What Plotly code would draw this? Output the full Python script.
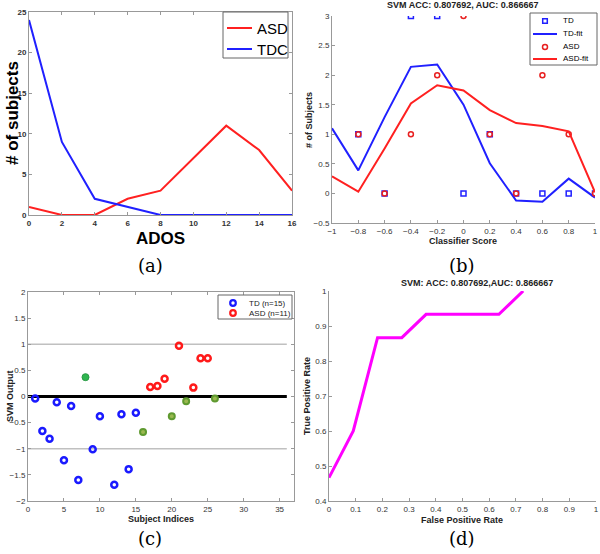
import plotly.graph_objects as go

W, H = 600, 554

# ---------------- data ----------------
# (a)
ados = [0, 2, 4, 6, 8, 10, 12, 14, 16]
asd_counts = [1, 0, 0, 2, 3, 7, 11, 8, 3]
tdc_counts = [24, 9, 2, 1, 0, 0, 0, 0, 0]

# (b)
score_bins = [-1, -0.8, -0.6, -0.4, -0.2, 0, 0.2, 0.4, 0.6, 0.8, 1]
td_pts_x = [-0.8, -0.6, -0.4, -0.2, 0, 0.2, 0.4, 0.6, 0.8, 1]
td_pts_y = [1, 0, 3, 3, 0, 1, 0, 0, 0, 0]
asd_pts_x = [-0.8, -0.6, -0.4, -0.2, 0, 0.2, 0.4, 0.6, 0.8, 1]
asd_pts_y = [1, 0, 1, 2, 3, 1, 0, 2, 1, 0]
td_fit = [1.10, 0.39, 1.29, 2.14, 2.18, 1.50, 0.51, -0.12, -0.14, 0.25, -0.07]
asd_fit = [0.29, 0.03, 0.76, 1.52, 1.83, 1.74, 1.41, 1.19, 1.14, 1.05, 0.02]

# (c)
td_idx = [1, 2, 3, 4, 5, 6, 7, 9, 10, 12, 13, 14, 15]
td_out = [-0.04, -0.66, -0.81, -0.11, -1.22, -0.18, -1.60, -1.01, -0.38, -1.69, -0.34, -1.39, -0.31]
asd_idx = [17, 18, 19, 21, 23, 24, 25]
asd_out = [0.18, 0.20, 0.34, 0.97, 0.17, 0.73, 0.73]
mis_td_idx = [8]
mis_td_out = [0.37]
mis_asd_idx = [16, 20, 22, 26]
mis_asd_out = [-0.68, -0.38, -0.09, -0.04]
ref_x = [0, 36]

# (d)
fpr = [0, 1/11, 2/11, 3/11, 4/11, 7/11, 8/11]
tpr = [7/15, 9/15, 13/15, 13/15, 14/15, 14/15, 1.0]


def fx(px):
    return px / W


def fy(py):
    return 1 - py / H


fig = go.Figure()

FONT = "Liberation Sans, Arial, sans-serif"
SERIF = "DejaVu Serif, Liberation Serif, serif"
GRAY = "#999999"
TICKC = "#333333"
BLUE = "#2020ff"
RED = "#ff2020"

# ---- (a)
fig.add_trace(go.Scatter(x=ados, y=asd_counts, mode="lines", name="ASD", showlegend=False,
                         line=dict(color=RED, width=2), xaxis="x", yaxis="y"))
fig.add_trace(go.Scatter(x=ados, y=tdc_counts, mode="lines", name="TDC", showlegend=False,
                         line=dict(color=BLUE, width=2), xaxis="x", yaxis="y"))

# ---- (b)
fig.add_trace(go.Scatter(x=td_pts_x, y=td_pts_y, mode="markers", name="TD", showlegend=False,
                         marker=dict(symbol="square-open", color=BLUE, size=5, line=dict(width=1.5)),
                         xaxis="x2", yaxis="y2"))
fig.add_trace(go.Scatter(x=score_bins, y=td_fit, mode="lines", name="TD-fit", showlegend=False,
                         line=dict(color=BLUE, width=2), xaxis="x2", yaxis="y2"))
fig.add_trace(go.Scatter(x=asd_pts_x, y=asd_pts_y, mode="markers", name="ASD", showlegend=False,
                         marker=dict(symbol="circle-open", color="#e82020", size=5, line=dict(width=1.5)),
                         xaxis="x2", yaxis="y2"))
fig.add_trace(go.Scatter(x=score_bins, y=asd_fit, mode="lines", name="ASD-fit", showlegend=False,
                         line=dict(color=RED, width=2), xaxis="x2", yaxis="y2"))

# ---- (c)
fig.add_trace(go.Scatter(x=ref_x, y=[1, 1], mode="lines", showlegend=False,
                         line=dict(color="#c0c0c0", width=1.5), xaxis="x3", yaxis="y3"))
fig.add_trace(go.Scatter(x=ref_x, y=[-1, -1], mode="lines", showlegend=False,
                         line=dict(color="#c0c0c0", width=1.5), xaxis="x3", yaxis="y3"))
fig.add_trace(go.Scatter(x=ref_x, y=[0, 0], mode="lines", showlegend=False,
                         line=dict(color="black", width=3), xaxis="x3", yaxis="y3"))
fig.add_trace(go.Scatter(x=td_idx, y=td_out, mode="markers", name="TD (n=15)", showlegend=False,
                         marker=dict(symbol="circle-open", color="#1a1aff", size=6, line=dict(width=2.5)),
                         xaxis="x3", yaxis="y3"))
fig.add_trace(go.Scatter(x=asd_idx, y=asd_out, mode="markers", name="ASD (n=11)", showlegend=False,
                         marker=dict(symbol="circle-open", color="#ff1a1a", size=6, line=dict(width=2.5)),
                         xaxis="x3", yaxis="y3"))
fig.add_trace(go.Scatter(x=mis_td_idx, y=mis_td_out, mode="markers", showlegend=False,
                         marker=dict(symbol="circle", color="#2fb550", size=7, line=dict(width=1, color="#2a9a45")),
                         xaxis="x3", yaxis="y3"))
fig.add_trace(go.Scatter(x=mis_asd_idx, y=mis_asd_out, mode="markers", showlegend=False,
                         marker=dict(symbol="circle", color="#9ab850", size=6, line=dict(width=2, color="#5f9a30")),
                         xaxis="x3", yaxis="y3"))

# ---- (d)
fig.add_trace(go.Scatter(x=fpr, y=tpr, mode="lines", showlegend=False,
                         line=dict(color="#ff00ff", width=3), xaxis="x4", yaxis="y4"))


def axis(domain, rng, dtick, mirror, anchor, tickfont=8, bold=False):
    return dict(domain=domain, range=rng, dtick=dtick, tick0=0, anchor=anchor,
                showgrid=False, zeroline=False, showline=True, linecolor=GRAY, linewidth=1,
                mirror="ticks" if mirror else False, ticks="inside", ticklen=3, tickcolor=GRAY,
                tickfont=dict(family=FONT, size=tickfont, color=TICKC,
                              weight="bold" if bold else "normal"),
                fixedrange=True)


layout = dict(
    width=W, height=H, margin=dict(l=0, r=0, t=0, b=0, autoexpand=False),
    paper_bgcolor="white", plot_bgcolor="white",
    xaxis=axis([fx(29), fx(292)], [0, 16], 2, True, "y", bold=True),
    yaxis=axis([fy(215), fy(12)], [0, 25], 5, True, "x", bold=True),
    xaxis2=axis([fx(332), fx(595)], [-1, 1], 0.2, False, "y2"),
    yaxis2=axis([fy(223), fy(16)], [-0.5, 3], 0.5, False, "x2"),
    xaxis3=axis([fx(28), fx(294)], [0, 37], 5, True, "y3"),
    yaxis3=axis([fy(501), fy(292)], [-2, 2], 0.5, True, "x3"),
    xaxis4=axis([fx(329), fx(596)], [0, 1], 0.1, False, "y4"),
    yaxis4=axis([fy(501), fy(291)], [0.4, 1], 0.1, False, "x4"),
    showlegend=False,
)

ann = []
shapes = []


def add_text(text, px, py, size, family=FONT, bold=False, angle=0, color="black", anchor="center"):
    ann.append(dict(text=("<b>%s</b>" % text) if bold else text, x=fx(px), y=fy(py),
                    xref="paper", yref="paper", showarrow=False, textangle=angle,
                    xanchor=anchor, yanchor="middle",
                    font=dict(family=family, size=size, color=color)))


def box(x0, y0, x1, y1):
    shapes.append(dict(type="rect", xref="paper", yref="paper", layer="above",
                       x0=fx(x0), x1=fx(x1), y0=fy(y1), y1=fy(y0),
                       fillcolor="white", line=dict(color="#666666", width=1)))


def leg_line(x0, x1, py, color):
    shapes.append(dict(type="line", xref="paper", yref="paper", layer="above",
                       x0=fx(x0), x1=fx(x1), y0=fy(py), y1=fy(py),
                       line=dict(color=color, width=2)))


def leg_marker(px, py, r, color, kind="circle", lw=1.5, fill="rgba(0,0,0,0)"):
    shapes.append(dict(type=kind, xref="paper", yref="paper", layer="above",
                       x0=fx(px - r), x1=fx(px + r), y0=fy(py + r), y1=fy(py - r),
                       fillcolor=fill, line=dict(color=color, width=lw)))


# legend (a)
box(223, 12, 288, 58)
leg_line(227, 252, 28, RED)
leg_line(227, 252, 49, BLUE)
add_text("ASD", 255, 28, 15, anchor="left")
add_text("TDC", 255, 49, 15, anchor="left")

# legend (b)
box(530, 13, 597, 65)
leg_marker(545, 21, 2.3, BLUE, kind="rect")
leg_line(533, 557, 34, BLUE)
leg_marker(545, 47, 2.5, "#e82020")
leg_line(533, 557, 59, RED)
add_text("TD", 561, 21, 8, anchor="left")
add_text("TD-fit", 561, 34, 8, anchor="left")
add_text("ASD", 561, 47, 8, anchor="left")
add_text("ASD-fit", 561, 59, 8, anchor="left")

# legend (c)
box(218, 295, 292, 319)
leg_marker(233, 303, 2.8, "#1a1aff", lw=2.2)
leg_marker(233, 313, 2.8, "#ff1a1a", lw=2.2)
add_text("TD (n=15)", 247, 303, 8, anchor="left", color="#222222")
add_text("ASD (n=11)", 247, 313, 8, anchor="left", color="#222222")

# axis titles
add_text("ADOS", 160, 238, 17, bold=True)
add_text("# of subjects", 12, 113, 17, bold=True, angle=-90)
add_text("Classifier Score", 463, 241, 9, bold=True, color="#222222")
add_text("# of Subjects", 309, 120, 9, bold=True, angle=-90, color="#222222")
add_text("Subject Indices", 161, 519, 9, bold=True, color="#222222")
add_text("SVM Output", 10, 396, 9, bold=True, angle=-90, color="#222222")
add_text("False Positive Rate", 462, 520, 9, bold=True, color="#222222")
add_text("True Positive Rate", 307, 396, 9, bold=True, angle=-90, color="#222222")
# titles
add_text("SVM ACC: 0.807692, AUC: 0.866667", 463, 5, 9, bold=True, color="#222222")
add_text("SVM: ACC: 0.807692,AUC: 0.866667", 477, 283, 9, bold=True, color="#222222")
# captions
add_text("(a)", 150, 266, 18, family=SERIF)
add_text("(b)", 462, 266, 18, family=SERIF)
add_text("(c)", 150, 538, 18, family=SERIF)
add_text("(d)", 462, 538, 18, family=SERIF)

layout["annotations"] = ann
layout["shapes"] = shapes
fig.update_layout(**layout)
fig.write_html("out.html", config=dict(displayModeBar=False, staticPlot=True),
               post_script="document.body.style.margin='0';document.body.style.overflow='hidden';")
